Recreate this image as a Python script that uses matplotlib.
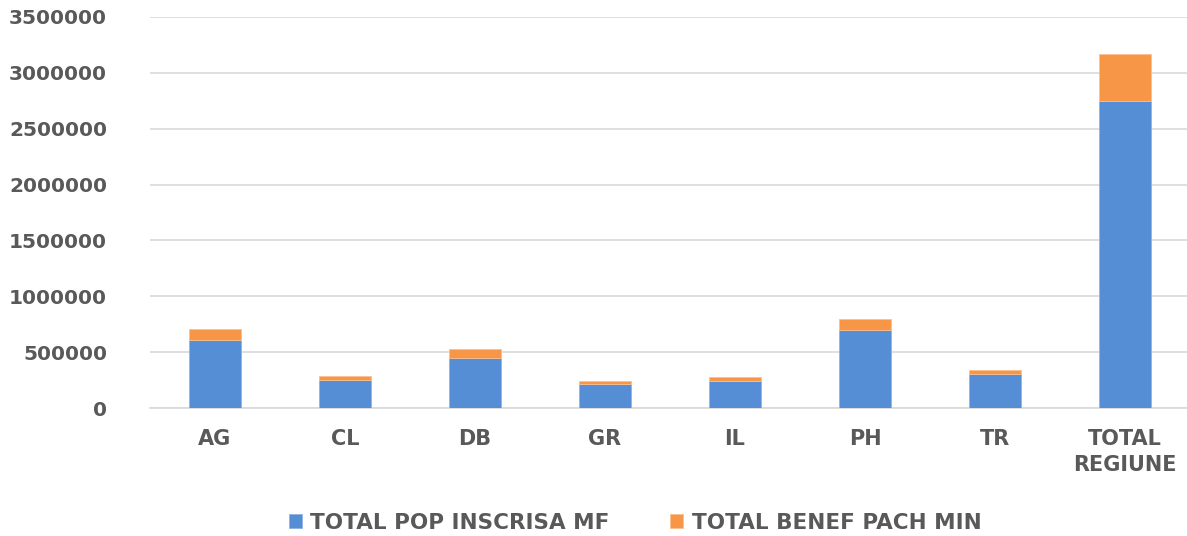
import matplotlib
matplotlib.use("Agg")
import matplotlib.pyplot as plt
import numpy as np

# values
categories = ["AG", "CL", "DB", "GR", "IL", "PH", "TR", "TOTAL\nREGIUNE"]
pop_inscrisa = [606000, 253000, 446000, 216000, 246000, 695000, 302000, 2746000]
benef_pach = [98000, 36000, 78000, 30000, 35000, 105000, 36000, 427000]

blue = "#558ED5"
orange = "#F79646"
text_col = "#595959"
grid_col = "#D9D9D9"

fig = plt.figure(figsize=(11.87, 5.36), dpi=100)
ax = fig.add_axes([150 / 1187, 1 - 408 / 536, 1040 / 1187, 391 / 536])

x = np.arange(len(categories))
ax.bar(x, pop_inscrisa, width=0.4, color=blue, edgecolor="#8FB4E3", linewidth=0.6,
       label="TOTAL POP INSCRISA MF", zorder=3)
ax.bar(x, benef_pach, width=0.4, bottom=pop_inscrisa, color=orange, edgecolor="#FAC090",
       linewidth=0.6, label="TOTAL BENEF PACH MIN", zorder=3)

ax.set_xlim(-0.5, len(categories) - 0.5)
ax.set_ylim(0, 3500000)
ax.set_yticks(np.arange(0, 3500001, 500000))
ax.set_yticklabels([str(v) for v in range(0, 3500001, 500000)])
ax.set_xticks(x)
ax.set_xticklabels(categories, linespacing=1.4)

ax.yaxis.grid(True, color=grid_col, linewidth=1.2, zorder=0)
for side in ["top", "right", "left"]:
    ax.spines[side].set_visible(False)
ax.spines["bottom"].set_color(grid_col)
ax.spines["bottom"].set_linewidth(1.2)

ax.tick_params(axis="both", length=0, labelcolor=text_col)
ax.tick_params(axis="y", pad=31, labelsize=14.5)
ax.tick_params(axis="x", pad=15, labelsize=15)
for lbl in ax.get_xticklabels() + ax.get_yticklabels():
    lbl.set_fontweight("bold")
for lbl in ax.get_xticklabels():
    lbl.set_verticalalignment("top")

leg = fig.legend(loc="center", bbox_to_anchor=(0.535, 0.025), ncol=2, frameon=False,
                 handlelength=0.6, handleheight=0.6, handletextpad=0.4, columnspacing=2.8,
                 prop={"size": 15.5, "weight": "bold"})
for t in leg.get_texts():
    t.set_color(text_col)

fig.savefig("out.png", dpi=100)
